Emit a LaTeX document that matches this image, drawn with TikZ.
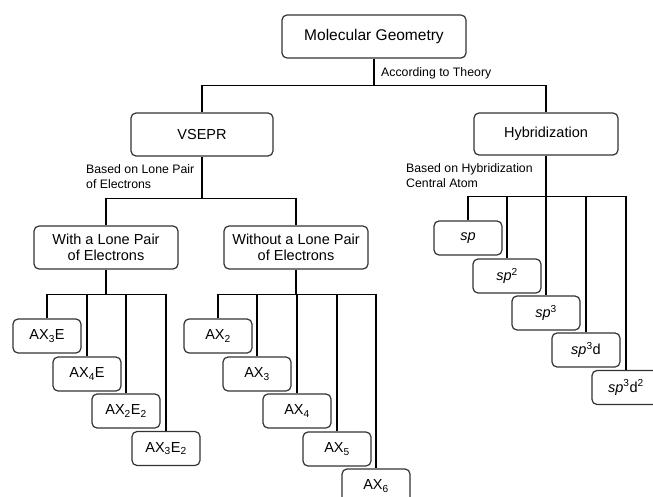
\documentclass[tikz,border=0pt]{standalone}
\usepackage{fontspec}
\setmainfont{Liberation Sans}

\tikzset{
  geobox/.style={draw=black!80, line width=1.2pt, rounded corners=5pt, align=center,
    inner sep=0pt, font=\fontsize{14.5}{16.5}\selectfont},
  smallbox/.style={geobox, minimum width=68pt, minimum height=34pt},
  conn/.style={black, line width=1.7pt},
  lbl/.style={inner sep=0pt, anchor=west, align=left, font=\fontsize{12.3}{15}\selectfont}
}

\begin{document}
\begin{tikzpicture}[x=1pt, y=-1pt]
\useasboundingbox (0,0) rectangle (653,497);

\node[geobox, minimum width=184pt, minimum height=43pt, font=\fontsize{15.5}{17}\selectfont] (mg) at (374,36.5) {Molecular Geometry};
\node[geobox, minimum width=142pt, minimum height=43pt] (vsepr) at (202,134.5) {VSEPR};
\node[geobox, minimum width=144pt, minimum height=42pt] (hyb) at (546,134) {Hybridization};
\node[geobox, minimum width=144pt, minimum height=43pt] (with) at (106,247.5) {With a Lone Pair\\of Electrons};
\node[geobox, minimum width=144pt, minimum height=43pt] (without) at (296,247.5) {Without a Lone Pair\\of Electrons};

\node[lbl] (theory) at (381,73) {According to Theory};
\node[lbl] (lonepair) at (86,176.5) {Based on Lone Pair\\of Electrons};
\node[lbl] (central) at (406,175.5) {Based on Hybridization\\Central Atom};

\node[smallbox] (ax3e) at (47,336) {AX\textsubscript{3}E};
\node[smallbox] (ax4e) at (87,374) {AX\textsubscript{4}E};
\node[smallbox] (ax2e2) at (126,411) {AX\textsubscript{2}E\textsubscript{2}};
\node[smallbox] (ax3e2) at (166,448.5) {AX\textsubscript{3}E\textsubscript{2}};

\node[smallbox] (ax2) at (218,336) {AX\textsubscript{2}};
\node[smallbox] (ax3) at (257,374) {AX\textsubscript{3}};
\node[smallbox] (ax4) at (297,411) {AX\textsubscript{4}};
\node[smallbox] (ax5) at (337,449) {AX\textsubscript{5}};
\node[smallbox] (ax6) at (376,486) {AX\textsubscript{6}};

\node[smallbox] (sp) at (468,238) {\textit{sp}};
\node[smallbox] (sp2) at (507,276) {\textit{sp}\textsuperscript{2}};
\node[smallbox] (sp3) at (546,313) {\textit{sp}\textsuperscript{3}};
\node[smallbox] (sp3d) at (586,350) {\textit{sp}\textsuperscript{3}d};
\node[smallbox] (sp3d2) at (626,387.5) {\textit{sp}\textsuperscript{3}d\textsuperscript{2}};

\draw[conn] (mg.south) -- ++(0,27) coordinate (mgj);
\draw[conn] (vsepr.north) |- (mgj) -| (hyb.north);

\draw[conn] (vsepr.south) -- ++(0,42) coordinate (vj);
\draw[conn] (with.north) |- (vj) -| (without.north);

\draw[conn] (hyb.south) -- ++(0,41) coordinate (hj);
\draw[conn] (sp.north) |- (hj) -| (sp3d2.north);
\draw[conn] (sp2.north) -- (sp2.north |- hj);
\draw[conn] (sp3.north) -- (sp3.north |- hj);
\draw[conn] (sp3d.north) -- (sp3d.north |- hj);

\draw[conn] (with.south) -- ++(0,25) coordinate (wj);
\draw[conn] (ax3e.north) |- (wj) -| (ax3e2.north);
\draw[conn] (ax4e.north) -- (ax4e.north |- wj);
\draw[conn] (ax2e2.north) -- (ax2e2.north |- wj);

\draw[conn] (without.south) -- ++(0,25) coordinate (oj);
\draw[conn] (ax2.north) |- (oj) -| (ax6.north);
\draw[conn] (ax3.north) -- (ax3.north |- oj);
\draw[conn] (ax4.north) -- (ax4.north |- oj);
\draw[conn] (ax5.north) -- (ax5.north |- oj);

\end{tikzpicture}
\end{document}
